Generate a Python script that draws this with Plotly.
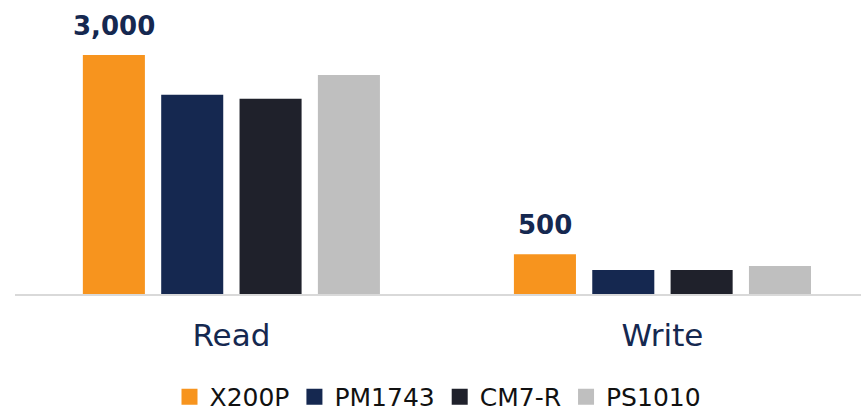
import plotly.graph_objects as go

categories = ["Read", "Write"]
series_names = ["X200P", "PM1743", "CM7-R", "PS1010"]
x200p = [3000, 500]
pm1743 = [2500, 300]
cm7r = [2450, 300]
ps1010 = [2750, 350]
label_values = x200p  # values labelled above the X200P bars
colors = ["#F7941E", "#152850", "#1F212B", "#BFBFBF"]
label_color = "#152850"

all_values = [x200p, pm1743, cm7r, ps1010]

BARGAP = 0.273
BARGROUPGAP = 0.208
FONT = "DejaVu Sans"

fig = go.Figure()
for name, vals, col in zip(series_names, all_values, colors):
    fig.add_trace(go.Bar(x=categories, y=vals, name=name, marker_color=col,
                         marker_line_width=0, showlegend=False, hoverinfo="skip"))
# legend entries with larger square swatches
for name, col in zip(series_names, colors):
    fig.add_trace(go.Scatter(x=[None], y=[None], mode="markers", name=name,
                             marker=dict(symbol="square", size=16, color=col)))

# value labels above the first series' bars
n = len(series_names)
gw = 1 - BARGAP
slot = gw / n
first_off = -gw / 2 + slot / 2
for i, v in enumerate(label_values):
    fig.add_annotation(x=i + first_off, y=v, xref="x", yref="y", text=f"{v:,}",
                       showarrow=False, yanchor="bottom", yshift=12,
                       font=dict(family=FONT, size=26, color=label_color, weight="bold"))

fig.update_layout(
    width=861, height=414,
    margin=dict(l=15, r=0, t=0, b=120, autoexpand=False),
    paper_bgcolor="white", plot_bgcolor="white",
    barmode="group", bargap=BARGAP, bargroupgap=BARGROUPGAP,
    showlegend=True,
    legend=dict(orientation="h", x=0.5, xanchor="center", y=-0.35, yanchor="middle",
                font=dict(family=FONT, size=25, color="#111111"),
                itemwidth=30, traceorder="normal"),
    font=dict(family=FONT),
)
fig.update_xaxes(range=[-0.502, 1.4606], showline=True, linecolor="#D9D9D9", linewidth=2,
                 showgrid=False, zeroline=False, ticks="", ticklabelstandoff=13,
                 tickfont=dict(family=FONT, size=31, color=label_color))
fig.update_yaxes(range=[0, 3690], visible=False, showgrid=False, zeroline=False)

fig.write_html("out.html", config={"displayModeBar": False},
               post_script="document.body.style.margin='0';")
